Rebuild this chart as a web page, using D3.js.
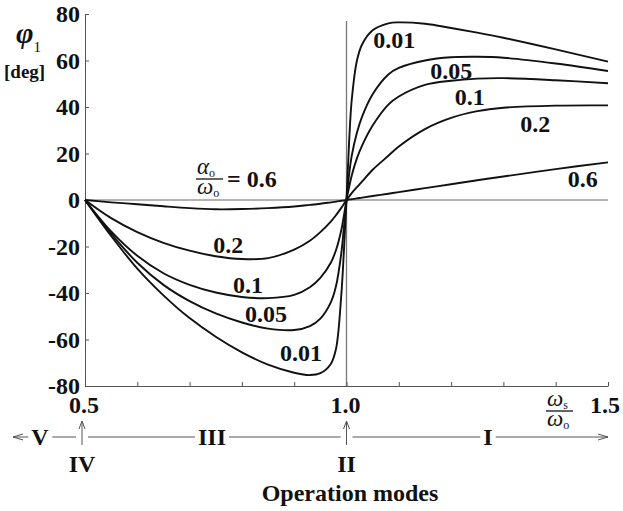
<!DOCTYPE html>
<html>
<head>
<meta charset="utf-8">
<script src="https://cdn.jsdelivr.net/npm/d3@7"></script>
<style>
  body { margin: 0; background: #fff; }
  text { font-family: "Liberation Serif", "Times New Roman", serif; fill: #111; }
</style>
</head>
<body>
<svg id="chart" width="623" height="511"></svg>
<script>
// frequency ratio ws/wo (x) and phase phi1 in degrees for each damping ratio ao/wo
var omegaRatio = [0.5, 0.55, 0.6, 0.65, 0.7, 0.75, 0.8, 0.85, 0.9, 0.93, 0.95, 0.97, 0.98, 0.99, 0.995, 1.0,
                  1.005, 1.01, 1.02, 1.03, 1.05, 1.08, 1.1, 1.15, 1.2, 1.25, 1.3, 1.4, 1.5];
var phi001 = [0, -15.5, -29.5, -41, -50.8, -58.8, -65.5, -70.8, -74.3, -75.3, -74.5, -70.5, -64, -41, -22, 0,
              25, 43, 60, 67, 73, 76, 76.4, 75.8, 74, 72, 69.8, 64.8, 59.5];
var phi005 = [0, -14.5, -27, -36.5, -43.5, -48.8, -52.7, -55.3, -55.9, -54.2, -51, -44, -37, -23, -12, 0,
              11, 19, 29, 36, 45.5, 54, 56.8, 60, 61.4, 61.6, 61.2, 58.7, 55.5];
var phi01 = [0, -13.5, -24, -31.5, -36.5, -39.8, -41.7, -42.2, -40.8, -37.5, -33.5, -27, -21.5, -13, -6.8, 0,
             5.5, 10.5, 18, 23.5, 32, 41, 44.5, 49.5, 51.3, 52.2, 52.4, 51.5, 50.2];
var phi02 = [0, -7.8, -13.8, -18.4, -21.8, -24.2, -25.4, -25, -21.3, -17.5, -13.8, -9.3, -6.5, -3.4, -1.7, 0,
             1.5, 3, 5.5, 8, 13, 19, 23, 30.5, 35.3, 38.2, 39.7, 40.6, 40.7];
var phi06 = [0, -1, -1.8, -2.7, -3.5, -4, -3.9, -3.5, -2.8, -2.1, -1.6, -1, -0.7, -0.35, -0.2, 0,
             0.2, 0.35, 0.7, 1, 1.7, 2.7, 3.4, 5.1, 6.8, 8.5, 10.1, 13.3, 16.2];

var dampings = ['0.01', '0.05', '0.1', '0.2', '0.6'];
var seriesValues = [phi001, phi005, phi01, phi02, phi06];

var yTicks = [80, 60, 40, 20, 0, -20, -40, -60, -80];
var xTicks = [0.6, 0.7, 0.8, 0.9, 1.0, 1.1, 1.2, 1.3, 1.4, 1.5];
var xLabels = ['0.5', '1.0', '1.5'];

var modes = ['V', 'III', 'I'];
var modeMarks = ['IV', 'II'];

// curve labels, placed in data units [ratio, phi]
var curveLabels = [
	{ text: '0.01', at: [1.051, 65.2] },
	{ text: '0.05', at: [1.160, 52] },
	{ text: '0.1',  at: [1.207, 40.9] },
	{ text: '0.2',  at: [1.332, 29.2] },
	{ text: '0.6',  at: [1.423, 5.6] },
	{ text: '0.2',  at: [0.745, -22.8] },
	{ text: '0.1',  at: [0.783, -40] },
	{ text: '0.05', at: [0.806, -52.5] },
	{ text: '0.01', at: [0.873, -69.2] }
];

var svg = d3.select('#chart');

var x = d3.scaleLinear().domain([0.5, 1.5]).range([85, 608]);
var y = d3.scaleLinear().domain([-80, 80]).range([386, 14]);

var axisColor = '#555';
var labelSize = '24px';

// reference lines: phi = 0 and ratio = 1
svg.append('line')
	.attr('x1', x(0.5)).attr('x2', x(1.5))
	.attr('y1', y(0)).attr('y2', y(0))
	.attr('stroke', '#666').attr('stroke-width', 1);
svg.append('line')
	.attr('x1', x(1)).attr('x2', x(1))
	.attr('y1', y(77)).attr('y2', y(-80))
	.attr('stroke', '#777').attr('stroke-width', 1.3);

// axes
var yAxis = svg.append('g')
	.attr('transform', 'translate(' + x(0.5) + ',0)')
	.call(d3.axisLeft(y).tickValues(yTicks).tickSizeInner(-4).tickSizeOuter(0).tickPadding(5)
		.tickFormat(function(d){ return String(d); }));
yAxis.selectAll('path, line').attr('stroke', axisColor);
yAxis.selectAll('text')
	.style('font-family', '"Liberation Serif", serif')
	.style('font-weight', 'bold')
	.style('font-size', labelSize)
	.attr('fill', '#111');

var xAxis = svg.append('g')
	.attr('transform', 'translate(0,' + y(-80) + ')')
	.call(d3.axisBottom(x).tickValues(xTicks).tickSizeInner(-4).tickSizeOuter(0).tickFormat(''));
xAxis.selectAll('path, line').attr('stroke', axisColor);

svg.selectAll('.xlab')
	.data(xLabels)
	.enter().append('text')
	.attr('class', 'xlab')
	.attr('x', function(d, i){ return x(+d) + (i === 2 ? -3 : -1); })
	.attr('y', 413)
	.attr('text-anchor', 'middle')
	.style('font-weight', 'bold').style('font-size', labelSize)
	.text(function(d){ return d; });

// curves
var line = d3.line()
	.x(function(d){ return x(d[0]); })
	.y(function(d){ return y(d[1]); })
	.curve(d3.curveCatmullRom.alpha(0.5));

svg.selectAll('.curve')
	.data(seriesValues)
	.enter().append('path')
	.attr('class', 'curve')
	.attr('fill', 'none')
	.attr('stroke', '#111')
	.attr('stroke-width', 1.9)
	.attr('d', function(vals){
		return line(vals.map(function(v, i){ return [omegaRatio[i], v]; }));
	});

svg.selectAll('.clab')
	.data(curveLabels)
	.enter().append('text')
	.attr('class', 'clab')
	.attr('x', function(d){ return x(d.at[0]); })
	.attr('y', function(d){ return y(d.at[1]); })
	.style('font-weight', 'bold').style('font-size', labelSize)
	.text(function(d){ return d.text; });

// small stacked fraction such as ao/wo
function fraction(g, cx, barY, top, topSub, bottom, bottomSub){
	var t = g.append('text').attr('x', cx - 13).attr('y', barY - 5)
		.style('font-style', 'italic').style('font-size', '23px').text(top);
	t.append('tspan').attr('dy', 3).style('font-style', 'normal').style('font-size', '12px').text(topSub);
	g.append('line').attr('x1', cx - 14).attr('x2', cx + 13)
		.attr('y1', barY).attr('y2', barY).attr('stroke', '#111').attr('stroke-width', 1.3);
	var b = g.append('text').attr('x', cx - 13).attr('y', barY + 15)
		.style('font-style', 'italic').style('font-size', '23px').text(bottom);
	b.append('tspan').attr('dy', 3).style('font-style', 'normal').style('font-size', '12px').text(bottomSub);
}

var dampLabel = svg.append('g');
fraction(dampLabel, 210, 179, 'α', 'o', 'ω', 'o');
dampLabel.append('text').attr('x', 227).attr('y', 187)
	.style('font-weight', 'bold').style('font-size', labelSize)
	.text('= ' + dampings[4]);

var ratioLabel = svg.append('g');
fraction(ratioLabel, 560, 411, 'ω', 's', 'ω', 'o');

// y label
var yl = svg.append('text').attr('x', 16).attr('y', 43)
	.style('font-style', 'italic').style('font-weight', 'bold').style('font-size', '30px').text('φ');
yl.append('tspan').attr('dy', 9).style('font-style', 'normal').style('font-weight', 'normal').style('font-size', '15px').text('1');
svg.append('text').attr('x', 4).attr('y', 78)
	.style('font-weight', 'bold').style('font-size', '19px').text('[deg]');

// operation modes strip
var modeY = 437;
var modeColor = '#555';
var strip = svg.append('g');
strip.append('line').attr('x1', 13).attr('x2', 608).attr('y1', modeY).attr('y2', modeY)
	.attr('stroke', modeColor).attr('stroke-width', 1);
[[13, 1], [608, -1]].forEach(function(p){
	strip.append('path')
		.attr('d', 'M' + (p[0] + 10 * p[1]) + ',' + (modeY - 3) + 'L' + p[0] + ',' + modeY + 'L' + (p[0] + 10 * p[1]) + ',' + (modeY + 3))
		.attr('fill', 'none').attr('stroke', modeColor).attr('stroke-width', 1);
});

var modeX = [40, 212, 488];
modes.forEach(function(m, i){
	var t = strip.append('text').attr('x', modeX[i]).attr('y', modeY + 8)
		.attr('text-anchor', 'middle')
		.style('font-weight', 'bold').style('font-size', labelSize).text(m);
	var bb = t.node().getBBox();
	strip.insert('rect', function(){ return t.node(); })
		.attr('x', bb.x - 3).attr('y', modeY - 3).attr('width', bb.width + 6).attr('height', 6)
		.attr('fill', '#fff');
});

var markX = [x(0.5) - 3, x(1)];
modeMarks.forEach(function(m, i){
	var mx = markX[i];
	strip.append('rect').attr('x', mx - 6).attr('y', modeY - 2).attr('width', 12).attr('height', 4).attr('fill', '#fff');
	strip.append('line').attr('x1', mx).attr('x2', mx).attr('y1', 445).attr('y2', 421)
		.attr('stroke', modeColor).attr('stroke-width', 1);
	strip.append('path').attr('d', 'M' + (mx - 3) + ',429L' + mx + ',421L' + (mx + 3) + ',429')
		.attr('fill', 'none').attr('stroke', modeColor).attr('stroke-width', 1);
	strip.append('text').attr('x', mx).attr('y', 472)
		.attr('text-anchor', 'middle')
		.style('font-weight', 'bold').style('font-size', labelSize).text(m);
});

svg.append('text').attr('x', 350).attr('y', 501)
	.attr('text-anchor', 'middle')
	.style('font-weight', 'bold').style('font-size', '24px').text('Operation modes');
</script>
</body>
</html>
